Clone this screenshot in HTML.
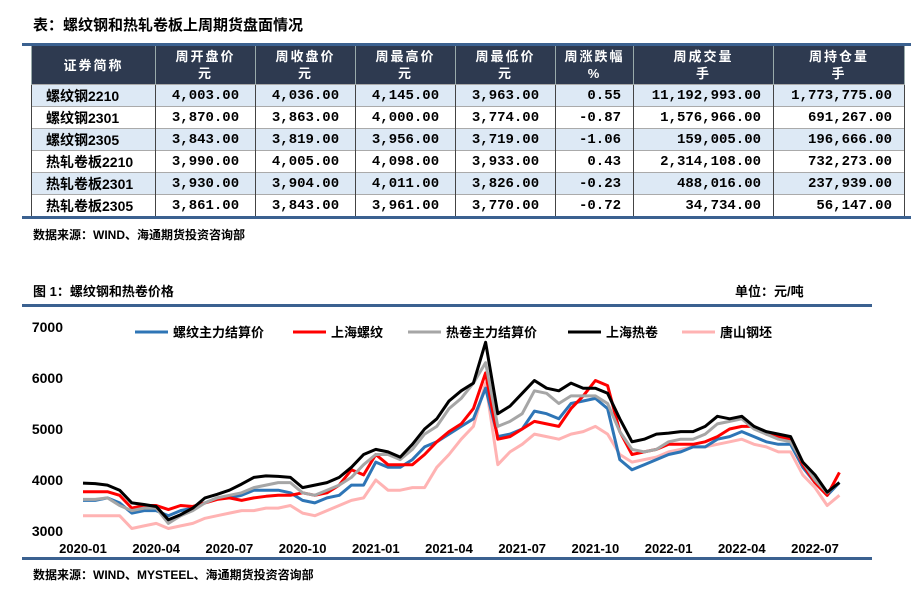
<!DOCTYPE html>
<html><head><meta charset="utf-8">
<style>
body{margin:0;width:911px;height:613px;background:#fff;position:relative;overflow:hidden;font-family:"Liberation Sans","Noto Sans CJK SC",sans-serif;}
.t{position:absolute;font-weight:bold;color:#000;white-space:nowrap;}
table{position:absolute;left:31px;top:46px;border-collapse:collapse;table-layout:fixed;}
td,th{padding:0;height:21px;font-size:14px;font-weight:bold;border-left:1px solid #444;border-right:1px solid #444;}
th{background:#2e3a50;color:#fff;font-size:13px;line-height:17px;height:38px;letter-spacing:2px;border-color:#9aa;}
td.n{text-align:right;padding-right:12px;font-family:"Liberation Mono",monospace;}
td.c{text-align:center;font-family:"Liberation Mono",monospace;}
td.l{text-align:left;padding-left:14px;font-family:"Liberation Sans","Noto Sans CJK SC",sans-serif;font-size:14px;}
tr.a td{background:#dde9f5;}
tr td{border-top:1px solid #aaa;}
</style></head><body>
<div class="t" style="left:33px;top:14px;font-size:15px;">表：螺纹钢和热轧卷板上周期货盘面情况</div>
<div style="position:absolute;left:22px;top:43px;width:889px;height:3px;background:#3b6190"></div>
<table>
<colgroup><col style="width:124px"><col style="width:100px"><col style="width:100px"><col style="width:100px"><col style="width:100px"><col style="width:78px"><col style="width:140px"><col style="width:131px"></colgroup>
<tr><th>证券简称</th><th>周开盘价<br>元</th><th>周收盘价<br>元</th><th>周最高价<br>元</th><th>周最低价<br>元</th><th>周涨跌幅<br>%</th><th>周成交量<br>手</th><th>周持仓量<br>手</th></tr>
<tr class="a"><td class="l">螺纹钢2210</td><td class="c">4,003.00</td><td class="c">4,036.00</td><td class="c">4,145.00</td><td class="c">3,963.00</td><td class="n">0.55</td><td class="n">11,192,993.00</td><td class="n">1,773,775.00</td></tr>
<tr><td class="l">螺纹钢2301</td><td class="c">3,870.00</td><td class="c">3,863.00</td><td class="c">4,000.00</td><td class="c">3,774.00</td><td class="n">-0.87</td><td class="n">1,576,966.00</td><td class="n">691,267.00</td></tr>
<tr class="a"><td class="l">螺纹钢2305</td><td class="c">3,843.00</td><td class="c">3,819.00</td><td class="c">3,956.00</td><td class="c">3,719.00</td><td class="n">-1.06</td><td class="n">159,005.00</td><td class="n">196,666.00</td></tr>
<tr><td class="l">热轧卷板2210</td><td class="c">3,990.00</td><td class="c">4,005.00</td><td class="c">4,098.00</td><td class="c">3,933.00</td><td class="n">0.43</td><td class="n">2,314,108.00</td><td class="n">732,273.00</td></tr>
<tr class="a"><td class="l">热轧卷板2301</td><td class="c">3,930.00</td><td class="c">3,904.00</td><td class="c">4,011.00</td><td class="c">3,826.00</td><td class="n">-0.23</td><td class="n">488,016.00</td><td class="n">237,939.00</td></tr>
<tr><td class="l">热轧卷板2305</td><td class="c">3,861.00</td><td class="c">3,843.00</td><td class="c">3,961.00</td><td class="c">3,770.00</td><td class="n">-0.72</td><td class="n">34,734.00</td><td class="n">56,147.00</td></tr>
</table>
<div style="position:absolute;left:22px;top:216px;width:889px;height:3px;background:#3b6190"></div>
<div class="t" style="left:33px;top:226px;font-size:12px;">数据来源：WIND、海通期货投资咨询部</div>

<div class="t" style="left:33px;top:281px;font-size:13px;">图 1：螺纹钢和热卷价格</div>
<div class="t" style="left:735px;top:281px;font-size:13px;">单位：元/吨</div>
<div style="position:absolute;left:22px;top:304px;width:850px;height:3px;background:#3b6190"></div>
<div style="position:absolute;left:22px;top:557px;width:850px;height:3px;background:#3b6190"></div>
<div class="t" style="left:33px;top:566px;font-size:12px;">数据来源：WIND、MYSTEEL、海通期货投资咨询部</div>

<svg id="chart" style="position:absolute;left:0;top:0" width="911" height="613"></svg>
<script>
const xTickLabels=["2020-01","2020-04","2020-07","2020-10","2021-01","2021-04","2021-07","2021-10","2022-01","2022-04","2022-07"];
const yTicks=[3000,4000,5000,6000,7000];
const seriesNames=["螺纹主力结算价","上海螺纹","热卷主力结算价","上海热卷","唐山钢坯"];
// half-month steps starting 2020-01
const rebarFut=[3600,3600,3650,3550,3350,3400,3400,3300,3400,3450,3550,3650,3650,3700,3800,3800,3800,3750,3600,3550,3650,3700,3900,3900,4350,4250,4250,4400,4650,4750,4900,5050,5200,5800,4850,4900,5000,5350,5300,5200,5500,5550,5600,5400,4400,4200,4300,4400,4500,4550,4650,4650,4800,4850,4950,4850,4750,4700,4700,4250,3950,3700,3950];
const rebarSH=[3770,3770,3770,3700,3450,3500,3500,3420,3500,3480,3550,3620,3650,3600,3650,3680,3700,3700,3750,3700,3750,3900,4200,4100,4500,4300,4300,4300,4500,4750,4950,5100,5400,6100,4800,4850,5000,5150,5100,5050,5400,5650,5950,5850,4950,4500,4550,4600,4700,4700,4700,4750,4850,5000,5050,5050,4900,4850,4800,4300,3950,3700,4150];
const hrcFut=[3620,3620,3650,3500,3400,3450,3450,3150,3300,3400,3550,3650,3700,3750,3850,3900,3950,3950,3750,3700,3800,3900,4050,4300,4500,4500,4400,4600,4900,5050,5400,5600,5900,6300,5050,5150,5300,5750,5700,5500,5650,5650,5650,5500,4950,4600,4550,4600,4750,4800,4800,4900,5100,5150,5200,5000,4900,4800,4750,4350,4000,3750,3950];
const hrcSH=[3940,3930,3900,3800,3550,3520,3480,3220,3320,3450,3650,3720,3800,3920,4050,4080,4070,4050,3850,3900,3950,4050,4250,4500,4600,4550,4450,4700,5000,5200,5550,5750,5900,6700,5300,5450,5700,5950,5800,5750,5900,5800,5800,5700,5200,4750,4800,4900,4920,4950,4950,5050,5250,5200,5250,5050,4950,4900,4850,4350,4100,3760,3950];
const billet=[3300,3300,3300,3300,3050,3100,3150,3050,3100,3150,3250,3300,3350,3400,3400,3450,3450,3500,3350,3300,3400,3500,3600,3650,4000,3800,3800,3850,3850,4250,4500,4800,5050,5900,4300,4550,4700,4900,4850,4800,4900,4950,5050,4900,4500,4350,4400,4450,4550,4600,4650,4650,4700,4750,4800,4700,4650,4550,4550,4100,3850,3500,3700];
const colors=["#2e75b6","#ff0000","#a6a6a6","#000000","#ffb3b3"];
const svg=document.getElementById('chart');
const NS='http://www.w3.org/2000/svg';
const x0=83,pxPerMonth=24.4,yTop=327,yBot=531;
function xs(m){return x0+m*pxPerMonth;}
function ys(v){return yBot-(v-3000)/4000*(yBot-yTop);}
function mk(t,a){const e=document.createElementNS(NS,t);for(const k in a)e.setAttribute(k,a[k]);svg.appendChild(e);return e;}
yTicks.forEach(v=>{
  const t=mk('text',{x:63,y:ys(v)+5,'text-anchor':'end','font-size':'14','font-weight':'bold','font-family':'Liberation Sans,sans-serif'});
  t.textContent=v;
  
  
});
xTickLabels.forEach((l,i)=>{
  const t=mk('text',{x:xs(i*3),y:553,'text-anchor':'middle','font-size':'13','font-weight':'bold','font-family':'Liberation Sans,sans-serif'});
  t.textContent=l;
  
  
});
const all=[billet,rebarFut,rebarSH,hrcFut,hrcSH];
const cmap=[4,0,1,2,3];
const names=["billet-line","rebar-futures-line","rebar-shanghai-line","hrc-futures-line","hrc-shanghai-line"];
all.forEach((s,j)=>{
  const d=s.map((v,i)=>(i?'L':'M')+xs(i*0.5).toFixed(1)+','+ys(v).toFixed(1)).join(' ');
  const p=mk('path',{d:d,fill:'none',stroke:colors[cmap[j]],'stroke-width':'3','stroke-linejoin':'round'});
  
  
});
const legX=[135,293,408,568,682];
seriesNames.forEach((n,i)=>{
  const l=mk('line',{x1:legX[i],x2:legX[i]+33,y1:332,y2:332,stroke:colors[i],'stroke-width':'3'});
  
  
  const t=mk('text',{x:legX[i]+38,y:337,'font-size':'13','font-weight':'bold','font-family':'Liberation Sans,Noto Sans CJK SC,sans-serif'});
  t.textContent=n;
  
  
});
</script>
</body></html>
